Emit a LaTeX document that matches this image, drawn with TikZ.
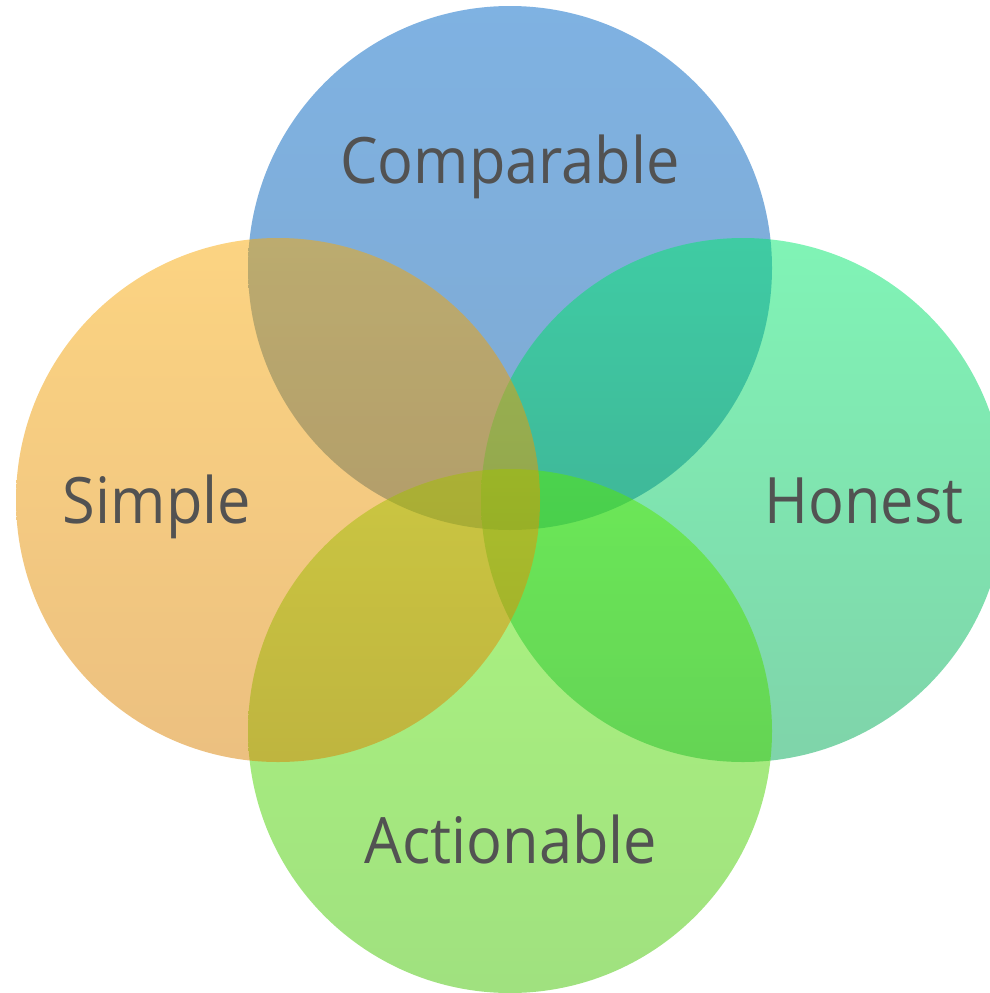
\documentclass[tikz,border=0pt]{standalone}
\usepackage{fontspec}
\usepackage{graphicx}
\setmainfont{Open Sans}
\definecolor{txt}{RGB}{82,82,82}
\definecolor{blueT}{RGB}{0,101,197}
\definecolor{blueB}{RGB}{0,85,165}
\definecolor{orgT}{RGB}{249,169,5}
\definecolor{orgB}{RGB}{217,129,1}
\definecolor{grnT}{RGB}{1,233,109}
\definecolor{grnB}{RGB}{0,169,85}
\definecolor{actT}{RGB}{89,235,1}
\definecolor{actB}{RGB}{65,195,0}
\newcommand{\narrowtxt}[1]{\scalebox{0.93}[1]{#1}}
\tikzset{
  disc/.style={circle, draw=none, inner sep=0pt, minimum size=524pt, opacity=0.5},
  lbl/.style={text=txt, font=\fontsize{64}{70}\selectfont, inner sep=0pt, anchor=base}
}
\begin{document}
\begin{tikzpicture}[x=1pt,y=-1pt]
\useasboundingbox (0,0) rectangle (990,993);
\node[disc, top color=blueT, bottom color=blueB] (comp) at (510,268) {};
\node[disc, top color=grnT, bottom color=grnB] (hon) at (743,500) {};
\node[disc, top color=actT, bottom color=actB] (act) at (510,731) {};
\node[disc, top color=orgT, bottom color=orgB] (simp) at (278,500) {};
\node[lbl] (tcomp) at (510,183) {\narrowtxt{Comparable}};
\node[lbl] (thon) at (864,523) {\narrowtxt{Honest}};
\node[lbl] (tact) at (511,863) {\narrowtxt{Actionable}};
\node[lbl] (tsimp) at (157,523) {\narrowtxt{Simple}};
\end{tikzpicture}
\end{document}
